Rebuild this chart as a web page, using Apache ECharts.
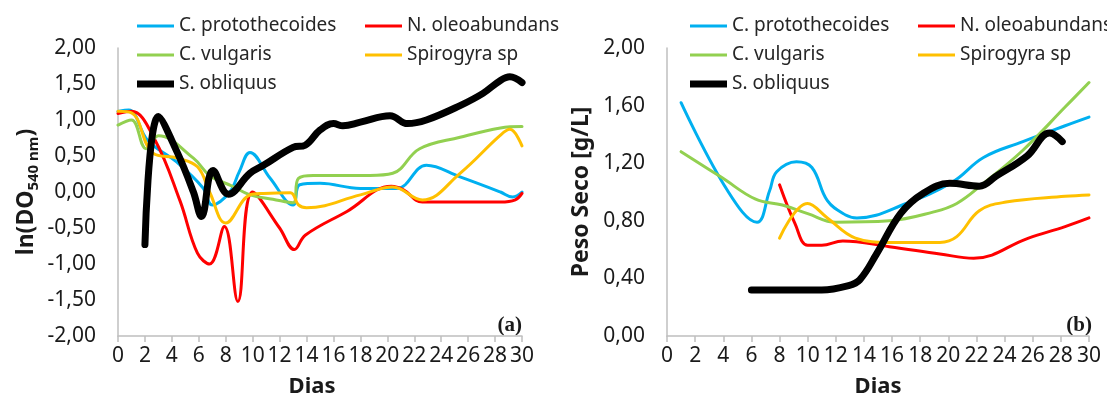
<!DOCTYPE html>
<html>
<head>
<meta charset="utf-8">
<script src="https://cdn.jsdelivr.net/npm/echarts@6/dist/echarts.min.js"></script>
<style>
html,body{margin:0;padding:0;background:#fff;}
#c{width:1107px;height:398px;}
</style>
</head>
<body>
<div id="c"></div>
<script>
// ---------- DATA ----------
const seriesNames = ['C. protothecoides', 'N. oleoabundans', 'C. vulgaris', 'Spirogyra sp', 'S. obliquus'];
const xTickDays = [0, 30, 2];            // min, max, step (Dias)
const leftYTicks = [-2, 2, 0.5];         // ln(DO540nm)
const rightYTicks = [0, 2, 0.4];         // Peso Seco [g/L]

// (a) ln(DO540 nm) vs Dias  -> [dia, valor]
const aProto = [[0,1.12],[0.8,1.14],[2.2,0.72],[4.4,0.41],[6.3,0.06],[7,-0.18],[8.3,0.0],[9,0.28],[9.8,0.55],[11.3,0.19],[13,-0.18],[13.5,0.1],[15,0.12],[18,0.05],[20.7,0.05],[22.9,0.37],[25.4,0.21],[28.4,0.0],[29.3,-0.07],[30,0.0]];
const aOleo = [[0,1.09],[1,1.12],[2.7,0.74],[4.6,-0.12],[5.9,-0.85],[6.8,-1.0],[7.9,-0.48],[8.9,-1.52],[10,0.0],[12,-0.5],[13.1,-0.8],[13.9,-0.6],[17,-0.27],[20.3,0.08],[21.2,0.03],[22.6,-0.14],[28.4,-0.14],[29.5,-0.11],[30,-0.02]];
const aVulg = [[0,0.93],[1,1.0],[2.1,0.6],[3,0.78],[5.6,0.47],[6.8,0.23],[8.5,0.08],[9.8,-0.04],[11.5,-0.1],[13,-0.15],[13.4,0.19],[14.5,0.23],[18.7,0.23],[20.4,0.26],[22.4,0.6],[25.4,0.76],[28.4,0.89],[30,0.91]];
const aSpiro = [[0,1.12],[1,1.1],[2.6,0.54],[4.4,0.47],[5.9,0.35],[6.8,0.0],[8,-0.43],[9.8,-0.04],[10.8,-0.02],[12.8,-0.01],[13.4,-0.18],[14,-0.22],[18,-0.04],[20.4,0.07],[22.6,-0.11],[25.4,0.26],[28.4,0.79],[29.1,0.87],[30,0.64]];
const aObliq = [[2,-0.73],[3,1.05],[4.4,0.55],[5.6,0.0],[6.2,-0.34],[7.05,0.3],[8.2,-0.03],[9.8,0.26],[10.8,0.37],[13,0.62],[13.9,0.65],[15,0.86],[16,0.95],[16.7,0.92],[18,0.97],[20.2,1.06],[21.5,0.95],[22.9,1.0],[25.4,1.2],[27.1,1.37],[28.4,1.55],[29.1,1.6],[30,1.52]];

// (b) Peso Seco [g/L] vs Dias
const bProto = [[1,1.62],[4.3,1.01],[6.4,0.79],[7.3,1.01],[7.8,1.14],[9.2,1.21],[10.3,1.17],[11.4,0.94],[12.7,0.84],[13.5,0.82],[17,0.92],[20.3,1.07],[22.5,1.24],[25.3,1.35],[28.3,1.46],[30,1.52]];
const bOleo = [[8,1.05],[9.1,0.78],[10,0.63],[11,0.63],[12.5,0.66],[15.8,0.62],[19.4,0.57],[21.8,0.54],[25.7,0.68],[28.3,0.76],[30,0.82]];
const bVulg = [[1,1.28],[3.9,1.1],[6.3,0.95],[8.2,0.91],[10,0.85],[12,0.79],[15.8,0.8],[18.9,0.86],[20.6,0.92],[22.5,1.06],[25.3,1.29],[28.3,1.59],[30,1.76]];
const bSpiro = [[8,0.68],[10,0.92],[11.4,0.82],[13.4,0.68],[15.8,0.65],[19.4,0.65],[20.6,0.69],[22.2,0.87],[24.1,0.93],[28.3,0.97],[30,0.98]];
const bObliq = [[6,0.32],[8.6,0.32],[11,0.32],[12.9,0.35],[13.7,0.39],[14.9,0.57],[16.6,0.85],[18.2,0.99],[20.1,1.06],[22.2,1.04],[23.4,1.11],[25.6,1.25],[27.2,1.41],[28.1,1.35]];

// ---------- STYLE ----------
const colors = ['#00B0F0', '#FF0000', '#92D050', '#FFC000', '#000000'];
const widths = [3, 3, 3, 3, 7];
const FF = '"Noto Sans", "Open Sans", sans-serif';
const TXT = '#1a1a1a';
const AX = '#BFBFBF';

const chart = echarts.init(document.getElementById('c'), null, {renderer: 'canvas'});
const fmt = v => v.toFixed(2).replace('.', ',');

function xAxisFor(i) {
  return {
    gridIndex: i, type: 'value', min: xTickDays[0], max: xTickDays[1], interval: xTickDays[2],
    axisLine: {onZero: false, lineStyle: {color: AX, width: 1.5}},
    axisTick: {show: true, length: 6, lineStyle: {color: AX, width: 1.5}},
    axisLabel: {fontSize: 21, fontFamily: FF, color: TXT, margin: 10},
    splitLine: {show: false}
  };
}
function yAxisFor(i, t) {
  return {
    gridIndex: i, type: 'value', min: t[0], max: t[1], interval: t[2],
    axisLine: {show: true, onZero: false, lineStyle: {color: AX, width: 1.5}},
    axisTick: {show: false},
    axisLabel: {fontSize: 21, fontFamily: FF, color: TXT, margin: 22, formatter: fmt},
    splitLine: {show: false}
  };
}
function mk(idx, data, gi) {
  return {
    type: 'line', name: seriesNames[idx], xAxisIndex: gi, yAxisIndex: gi,
    data: data, smooth: 0.4, symbol: 'none',
    lineStyle: {color: colors[idx], width: widths[idx], cap: 'round', join: 'round'},
    itemStyle: {color: colors[idx]}
  };
}
function legendCol(left, top, idxs, h) {
  return {
    orient: 'vertical', left: left, top: top, itemWidth: 37, itemHeight: h, itemGap: 9,
    icon: 'rect', selectedMode: false,
    textStyle: {fontSize: 19, fontFamily: FF, color: '#262626', lineHeight: 20},
    data: idxs.map(i => ({name: seriesNames[i], itemStyle: {color: colors[i]}}))
  };
}

const option = {
  animation: false,
  backgroundColor: '#fff',
  grid: [
    {left: 118, top: 48, width: 404, height: 288},
    {left: 667, top: 48, width: 422, height: 288}
  ],
  xAxis: [xAxisFor(0), xAxisFor(1)],
  yAxis: [yAxisFor(0, leftYTicks), yAxisFor(1, rightYTicks)],
  legend: [
    legendCol(132, 11, [0, 2], 3), legendCol(132, 69, [4], 7), legendCol(360, 11, [1, 3], 3),
    legendCol(685, 11, [0, 2], 3), legendCol(685, 69, [4], 7), legendCol(913, 11, [1, 3], 3)
  ],
  series: [
    mk(0, aProto, 0), mk(1, aOleo, 0), mk(2, aVulg, 0), mk(3, aSpiro, 0), mk(4, aObliq, 0),
    mk(0, bProto, 1), mk(1, bOleo, 1), mk(2, bVulg, 1), mk(3, bSpiro, 1), mk(4, bObliq, 1)
  ],
  graphic: [
    {type: 'text', x: 26, y: 192, rotation: Math.PI / 2,
      style: {text: '{a|ln(DO}{s|540 nm}{a|)}', textAlign: 'center', textVerticalAlign: 'middle',
        rich: {
          a: {fontSize: 23, fontWeight: 'bold', fontFamily: FF, fill: TXT, lineHeight: 30, verticalAlign: 'middle'},
          s: {fontSize: 15, fontWeight: 'bold', fontFamily: FF, fill: TXT, lineHeight: 15, verticalAlign: 'bottom'}
        }}},
    {type: 'text', x: 581, y: 192, rotation: Math.PI / 2,
      style: {text: 'Peso Seco [g/L]', textAlign: 'center', textVerticalAlign: 'middle',
        fontSize: 23, fontWeight: 'bold', fontFamily: FF, fill: TXT}},
    {type: 'text', x: 312, y: 387,
      style: {text: 'Dias', textAlign: 'center', textVerticalAlign: 'middle',
        fontSize: 22, fontWeight: 'bold', fontFamily: FF, fill: TXT}},
    {type: 'text', x: 878, y: 387,
      style: {text: 'Dias', textAlign: 'center', textVerticalAlign: 'middle',
        fontSize: 22, fontWeight: 'bold', fontFamily: FF, fill: TXT}},
    {type: 'text', x: 522, y: 326,
      style: {text: '(a)', textAlign: 'right', textVerticalAlign: 'middle',
        fontSize: 21, fontWeight: 'bold', fontFamily: '"Liberation Serif", serif', fill: TXT}},
    {type: 'text', x: 1092, y: 326,
      style: {text: '(b)', textAlign: 'right', textVerticalAlign: 'middle',
        fontSize: 21, fontWeight: 'bold', fontFamily: '"Liberation Serif", serif', fill: TXT}}
  ]
};
chart.setOption(option);
</script>
</body>
</html>
